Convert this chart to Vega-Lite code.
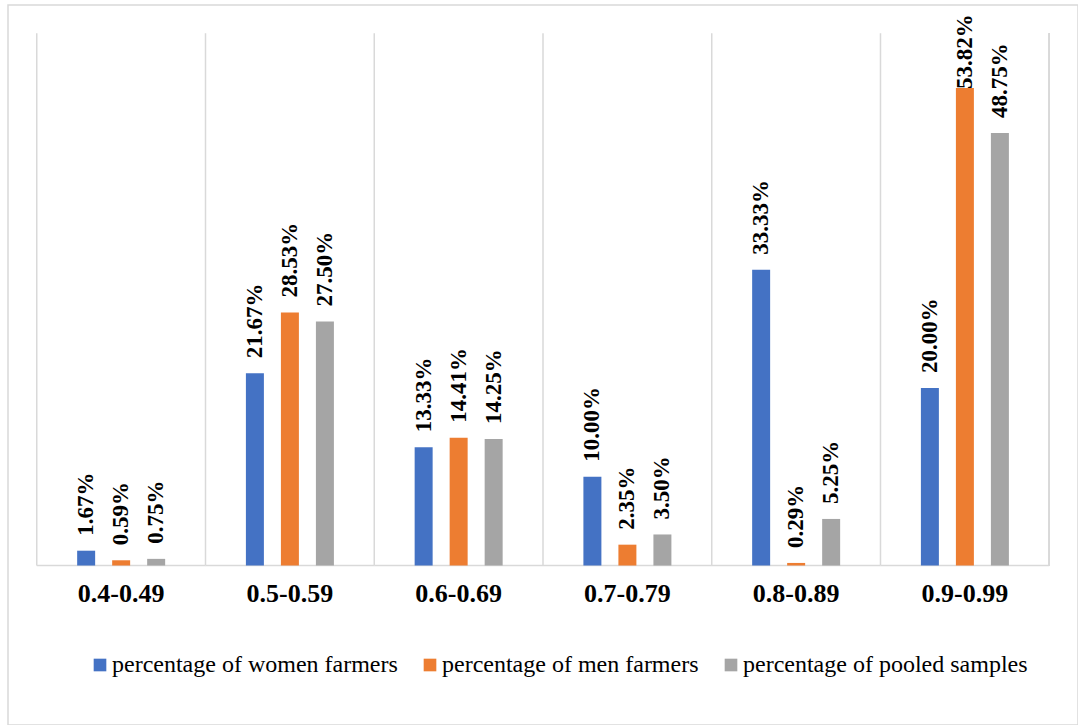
{
  "$schema": "https://vega.github.io/schema/vega-lite/v6.json",
  "width": 1070,
  "height": 720,
  "autosize": {"type": "none"},
  "padding": {"left": 8, "top": 5, "right": 0, "bottom": 0},
  "background": "white",
  "config": {
    "view": {"stroke": "#D9D9D9", "strokeWidth": 1.5},
    "font": "Times New Roman, Liberation Serif, Tinos, serif"
  },
  "datasets": {
    "bars": [
      {"cat": "0.4-0.49", "series": "percentage of women farmers", "value": 0.0167},
      {"cat": "0.4-0.49", "series": "percentage of men farmers", "value": 0.0059},
      {"cat": "0.4-0.49", "series": "percentage of pooled samples", "value": 0.0075},
      {"cat": "0.5-0.59", "series": "percentage of women farmers", "value": 0.2167},
      {"cat": "0.5-0.59", "series": "percentage of men farmers", "value": 0.2853},
      {"cat": "0.5-0.59", "series": "percentage of pooled samples", "value": 0.2750},
      {"cat": "0.6-0.69", "series": "percentage of women farmers", "value": 0.1333},
      {"cat": "0.6-0.69", "series": "percentage of men farmers", "value": 0.1441},
      {"cat": "0.6-0.69", "series": "percentage of pooled samples", "value": 0.1425},
      {"cat": "0.7-0.79", "series": "percentage of women farmers", "value": 0.1000},
      {"cat": "0.7-0.79", "series": "percentage of men farmers", "value": 0.0235},
      {"cat": "0.7-0.79", "series": "percentage of pooled samples", "value": 0.0350},
      {"cat": "0.8-0.89", "series": "percentage of women farmers", "value": 0.3333},
      {"cat": "0.8-0.89", "series": "percentage of men farmers", "value": 0.0029},
      {"cat": "0.8-0.89", "series": "percentage of pooled samples", "value": 0.0525},
      {"cat": "0.9-0.99", "series": "percentage of women farmers", "value": 0.2000},
      {"cat": "0.9-0.99", "series": "percentage of men farmers", "value": 0.5382},
      {"cat": "0.9-0.99", "series": "percentage of pooled samples", "value": 0.4875}
    ],
    "cats": [
      {"cat": "0.4-0.49"},
      {"cat": "0.5-0.59"},
      {"cat": "0.6-0.69"},
      {"cat": "0.7-0.79"},
      {"cat": "0.8-0.89"},
      {"cat": "0.9-0.99"}
    ]
  },
  "layer": [
    {
      "data": {"name": "cats"},
      "mark": {"type": "rule", "color": "#D9D9D9", "strokeWidth": 1.5},
      "encoding": {
        "x": {"field": "cat", "type": "nominal", "bandPosition": 0,
              "scale": {"domain": ["0.4-0.49", "0.5-0.59", "0.6-0.69", "0.7-0.79", "0.8-0.89", "0.9-0.99"], "paddingInner": 0, "paddingOuter": 0.1704},
              "axis": {"orient": "bottom", "offset": -159.5, "domain": false, "ticks": false, "grid": false, "labelAngle": 0, "labelFont": "Times New Roman, Liberation Serif, Tinos, serif", "labelFontSize": 26, "labelFontWeight": "bold", "labelColor": "#000000", "labelPadding": 15, "title": null}},
        "y": {"datum": 0, "type": "quantitative", "scale": {"domain": [-0.1798, 0.6319], "nice": false, "zero": false}, "axis": null},
        "y2": {"datum": 0.6}
      }
    },
    {
      "data": {"name": "cats"},
      "mark": {"type": "rule", "color": "#D9D9D9", "strokeWidth": 1.5},
      "encoding": {
        "x": {"datum": "0.9-0.99", "type": "nominal", "bandPosition": 1},
        "y": {"datum": 0, "type": "quantitative"},
        "y2": {"datum": 0.6}
      }
    },
    {
      "data": {"name": "cats"},
      "mark": {"type": "bar", "fillOpacity": 0, "stroke": "#D9D9D9", "strokeWidth": 1.5},
      "encoding": {
        "x": {"field": "cat", "type": "nominal"},
        "y": {"datum": 0, "type": "quantitative"},
        "y2": {"datum": 0}
      }
    },
    {
      "data": {"name": "bars"},
      "mark": {"type": "bar"},
      "encoding": {
        "x": {"field": "cat", "type": "nominal"},
        "xOffset": {"field": "series", "type": "nominal",
                    "scale": {"domain": ["percentage of women farmers", "percentage of men farmers", "percentage of pooled samples"], "paddingInner": 0.486, "paddingOuter": 0, "range": [40.4, 128.4]}},
        "y": {"field": "value", "type": "quantitative"},
        "color": {"field": "series", "type": "nominal",
                  "scale": {"domain": ["percentage of women farmers", "percentage of men farmers", "percentage of pooled samples"], "range": ["#4472C4", "#ED7D31", "#A5A5A5"]},
                  "legend": {"orient": "none", "legendX": 80, "legendY": 648, "direction": "horizontal", "columns": 3, "title": null, "padding": 0,
                             "symbolType": "square", "symbolSize": 160, "symbolStrokeWidth": 0, "symbolOpacity": 1,
                             "labelFont": "Times New Roman, Liberation Serif, Tinos, serif", "labelFontSize": 24, "labelColor": "#000000", "labelLimit": 500,
                             "labelOffset": 0, "columnPadding": 20}}
      }
    },
    {
      "data": {"name": "bars"},
      "transform": [{"filter": "datum.value < 0.5"}],
      "mark": {"type": "text", "angle": 270, "align": "left", "baseline": "middle", "dx": 15, "font": "Times New Roman, Liberation Serif, Tinos, serif", "fontWeight": "bold", "fontSize": 23, "color": "#000000"},
      "encoding": {
        "x": {"field": "cat", "type": "nominal"},
        "xOffset": {"field": "series", "type": "nominal"},
        "y": {"field": "value", "type": "quantitative"},
        "text": {"field": "value", "type": "quantitative", "format": ".2%"}
      }
    },
    {
      "data": {"name": "bars"},
      "transform": [{"filter": "datum.value >= 0.5"}],
      "mark": {"type": "text", "angle": 270, "align": "left", "baseline": "middle", "dx": -1, "font": "Times New Roman, Liberation Serif, Tinos, serif", "fontWeight": "bold", "fontSize": 23, "color": "#000000"},
      "encoding": {
        "x": {"field": "cat", "type": "nominal"},
        "xOffset": {"field": "series", "type": "nominal"},
        "y": {"field": "value", "type": "quantitative"},
        "text": {"field": "value", "type": "quantitative", "format": ".2%"}
      }
    }
  ]
}
